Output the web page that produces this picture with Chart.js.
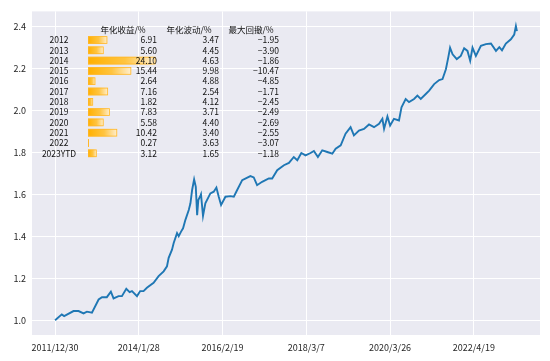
<!DOCTYPE html>
<html><head><meta charset="utf-8">
<script src="https://cdn.jsdelivr.net/npm/chart.js@4"></script>
<style>html,body{margin:0;padding:0;background:#fff}#wrap{width:550px;height:361px}</style>
</head><body><div id="wrap"><canvas id="c" width="550" height="361"></canvas></div>
<script>
// ---- line data (trading-day index, net value) ----
const dayIndex = [0,40,54,110,140,170,190,220,260,280,309,333,349,379,399,425,445,459,489,508,528,548,588,618,648,668,678,698,708,728,738,752,764,778,798,808,818,830,840,848,855,865,871,883,897,927,947,963,977,991,1017,1047,1067,1087,1117,1166,1186,1206,1236,1276,1296,1326,1366,1396,1425,1446,1470,1495,1525,1545,1569,1595,1625,1655,1675,1705,1734,1764,1784,1814,1844,1874,1904,1934,1954,1964,1984,2000,2023,2053,2068,2093,2113,2143,2163,2183,2213,2233,2263,2293,2313,2333,2347,2358,2373,2398,2422,2442,2462,2478,2492,2512,2542,2572,2602,2632,2652,2668,2691,2721,2741,2751,2757];
const navValues = [1.000,1.028,1.020,1.044,1.044,1.033,1.041,1.036,1.099,1.110,1.110,1.136,1.104,1.115,1.115,1.150,1.134,1.139,1.115,1.139,1.139,1.155,1.178,1.210,1.233,1.257,1.297,1.336,1.368,1.415,1.400,1.422,1.438,1.478,1.525,1.557,1.620,1.670,1.635,1.500,1.572,1.588,1.600,1.497,1.557,1.604,1.612,1.632,1.588,1.549,1.588,1.591,1.588,1.620,1.667,1.686,1.680,1.643,1.659,1.675,1.675,1.714,1.738,1.749,1.777,1.762,1.796,1.785,1.796,1.806,1.777,1.809,1.801,1.793,1.817,1.833,1.888,1.919,1.880,1.903,1.911,1.932,1.919,1.935,1.959,1.911,1.970,1.927,1.959,1.951,2.014,2.053,2.038,2.053,2.069,2.053,2.077,2.093,2.124,2.143,2.148,2.195,2.250,2.297,2.266,2.243,2.258,2.295,2.282,2.235,2.297,2.258,2.306,2.314,2.317,2.282,2.300,2.285,2.317,2.337,2.360,2.400,2.376];
const lastIndex = 2757;

// ---- axis ticks ----
const xTickIndex = [0,500,1000,1500,2000,2500];
const xTickLabels = ['2011/12/30','2014/1/28','2016/2/19','2018/3/7','2020/3/26','2022/4/19'];
const yTickValues = [1.0,1.2,1.4,1.6,1.8,2.0,2.2,2.4];

// ---- table data ----
const tableYears = ['2012','2013','2014','2015','2016','2017','2018','2019','2020','2021','2022','2023YTD'];
const annualReturn = [6.91,5.60,24.10,15.44,2.64,7.16,1.82,7.83,5.58,10.42,0.27,3.12];
const annualVol = [3.47,4.45,4.63,9.98,4.88,2.54,4.12,3.71,4.40,3.40,3.63,1.65];
const maxDrawdown = [-1.95,-3.90,-1.86,-10.47,-4.85,-1.71,-2.45,-2.49,-2.69,-2.55,-3.07,-1.18];
const tableHeaders = ['年化收益/%','年化波动/%','最大回撤/%'];

const FONT = '"Noto Sans CJK SC","DejaVu Sans",sans-serif';

const bgPlugin = {
  id: 'bg',
  beforeDraw(chart) {
    const {ctx, chartArea: a} = chart;
    ctx.save();
    ctx.fillStyle = '#EAEAF2';
    ctx.fillRect(a.left, a.top, a.right - a.left, a.bottom - a.top);
    ctx.restore();
  }
};

const tablePlugin = {
  id: 'table',
  afterDraw(chart) {
    const ctx = chart.ctx;
    ctx.save();
    ctx.font = '8.5px ' + FONT;
    ctx.fillStyle = '#111';
    ctx.textBaseline = 'middle';
    const headY = 29.5, row0 = 40, rowH = 10.3;
    const yearX = 59, barX = 88, pxPer = 2.8, retX = 157, volX = 219, ddX = 279;
    ctx.textAlign = 'center';
    ctx.fillText(tableHeaders[0], 123, headY);
    ctx.fillText(tableHeaders[1], 189, headY);
    ctx.fillText(tableHeaders[2], 251, headY);
    tableYears.forEach((yr, i) => {
      const y = row0 + i * rowH;
      ctx.textAlign = 'center';
      ctx.fillStyle = '#111';
      ctx.fillText(yr, yearX, y);
      const w = Math.max(annualReturn[i] * pxPer, 1);
      const g = ctx.createLinearGradient(barX, 0, barX + w, 0);
      g.addColorStop(0, '#FFB000');
      g.addColorStop(0.55, '#FFC440');
      g.addColorStop(1, '#FFEFD0');
      ctx.fillStyle = g;
      ctx.fillRect(barX, y - 3.8, w, 7.6);
      ctx.strokeStyle = '#FFB72A';
      ctx.lineWidth = 0.8;
      ctx.strokeRect(barX + 0.4, y - 3.4, Math.max(w - 0.8, 0.2), 6.8);
      ctx.fillStyle = '#111';
      ctx.textAlign = 'right';
      ctx.fillText(annualReturn[i].toFixed(2), retX, y);
      ctx.fillText(annualVol[i].toFixed(2), volX, y);
      ctx.fillText('\u2212' + Math.abs(maxDrawdown[i]).toFixed(2), ddX, y);
    });
    ctx.restore();
  }
};

const points = dayIndex.map((d, i) => ({x: d, y: navValues[i]}));

new Chart(document.getElementById('c'), {
  type: 'line',
  data: { datasets: [{
    data: points,
    borderColor: '#1f77b4',
    borderWidth: 1.9,
    pointRadius: 0,
    tension: 0,
    fill: false
  }]},
  options: {
    responsive: false,
    animation: false,
    events: [],
    layout: { padding: { left: 0, right: 10, top: 10, bottom: 0 } },
    plugins: { legend: { display: false }, tooltip: { enabled: false } },
    scales: {
      x: {
        type: 'linear',
        min: -0.05 * lastIndex,
        max: 1.05 * lastIndex,
        afterBuildTicks(s) { s.ticks = xTickIndex.map(v => ({value: v})); },
        afterFit(s) { s.height = 26; },
        border: { display: false },
        grid: { color: '#FFFFFF', lineWidth: 1, drawTicks: false },
        ticks: {
          padding: 7,
          color: '#262626',
          font: { family: FONT, size: 9 },
          maxRotation: 0,
          autoSkip: false,
          callback(v) { const k = xTickIndex.indexOf(v); return k >= 0 ? xTickLabels[k] : ''; }
        }
      },
      y: {
        min: 0.93,
        max: 2.47,
        afterBuildTicks(s) { s.ticks = yTickValues.map(v => ({value: v})); },
        afterFit(s) { s.width = 32; },
        border: { display: false },
        grid: { color: '#FFFFFF', lineWidth: 1, drawTicks: false },
        ticks: {
          padding: 6,
          color: '#262626',
          font: { family: FONT, size: 9 },
          callback(v) { return Number(v).toFixed(1); }
        }
      }
    }
  },
  plugins: [bgPlugin, tablePlugin]
});
</script>
</body></html>
